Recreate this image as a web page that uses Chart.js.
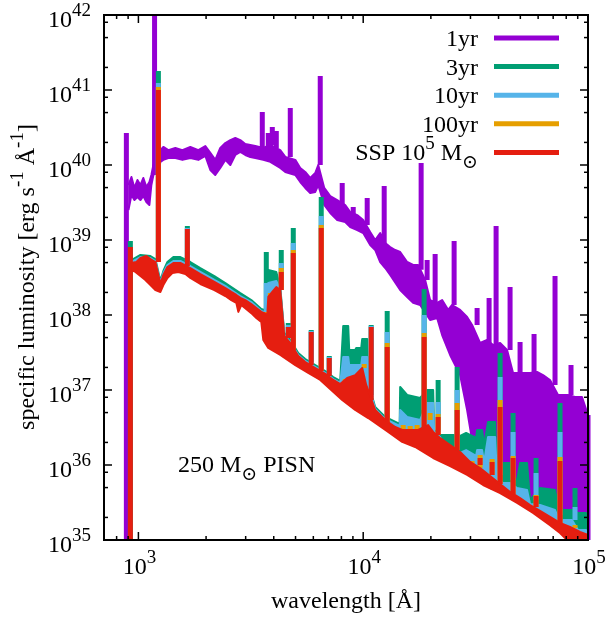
<!DOCTYPE html>
<html>
<head>
<meta charset="utf-8">
<script src="https://cdn.jsdelivr.net/npm/chart.js@4.4.1/dist/chart.umd.min.js"></script>
<style>html,body{margin:0;padding:0;background:#fff;}canvas{display:block;}</style>
</head>
<body>
<canvas id="spec" width="605" height="618"></canvas>
<script>
// Wavelength in Angstrom, specific luminosity in erg s^-1 A^-1.
// Band spectra are given as upper/lower envelopes; emission lines as [wavelength, base, peak].

// 250 Msun PISN, 1 yr
const pisn1yrUpper = [[903,5.41e39],[931,6.92e39],[960,4.94e39],[990,6.31e39],[1021,5.41e39],[1052,6.71e39],[1085,5.09e39],[1119,5.93e39],[1142,7.36e39],[1166,1.0e40],[1227,1.24e40],[1253,1.58e40],[1291,1.74e40],[1359,1.58e40],[1460,1.69e40],[1569,1.58e40],[1702,1.74e40],[1848,1.58e40],[1985,1.79e40],[2089,1.45e40],[2198,1.17e40],[2313,1.69e40],[2436,1.96e40],[2564,2.15e40],[2698,2.29e40],[2840,2.15e40],[2989,1.91e40],[3146,1.85e40],[3311,1.79e40],[3594,1.69e40],[3861,1.85e40],[4276,1.58e40],[4502,1.28e40],[4987,1.17e40],[5248,9.12e39],[5523,8.07e39],[5812,6.71e39],[6119,7.82e39],[6310,1.0e40],[6710,4.94e39],[7136,3.86e39],[7663,3.41e39],[8318,2.93e39],[8755,2.36e39],[9404,2.15e39],[10000,1.85e39],[10742,1.28e39],[11306,1.0e39],[11900,1.24e39],[12527,9.12e38],[13183,8.07e38],[13874,7.36e38],[14603,6.92e38],[15690,5.09e38],[16681,4.64e38],[17557,4.64e38],[18859,2.93e38],[19843,1.58e38],[21326,1.45e38],[22444,1.58e38],[23859,1.17e38],[24862,1.36e38],[26984,1.17e38],[28991,9.4e37],[30509,7.36e37],[33113,4.23e37],[35563,4.64e37],[37825,3.98e37],[40644,4.23e37],[43652,3.41e37],[46416,1.69e37],[51404,1.69e37],[55232,1.69e37],[59330,1.74e37],[63096,1.58e37],[67764,1.36e37],[73556,8.58e36],[81470,8.58e36],[87538,8.07e36],[94030,8.07e36],[100000,4.64e36]];
const pisn1yrLower = [[903,2.51e39],[931,3.98e39],[960,3.41e39],[990,3.75e39],[1021,3.41e39],[1052,3.86e39],[1085,3.21e39],[1119,2.93e39],[1142,5.41e39],[1166,7.36e39],[1227,8.58e39],[1253,1.10e40],[1291,1.17e40],[1359,1.24e40],[1460,1.24e40],[1569,1.17e40],[1702,1.24e40],[1848,1.17e40],[1985,1.32e40],[2089,8.58e39],[2198,7.36e39],[2313,9.12e39],[2436,1.17e40],[2564,1.0e40],[2698,1.36e40],[2840,1.49e40],[2989,1.36e40],[3146,1.28e40],[3311,1.24e40],[3594,1.17e40],[3861,1.10e40],[4276,9.12e39],[4502,8.07e39],[4987,7.36e39],[5248,5.93e39],[5523,4.94e39],[5812,4.23e39],[6119,4.37e39],[6310,5.41e39],[6710,2.93e39],[7136,2.29e39],[7663,1.85e39],[8318,1.74e39],[8755,1.49e39],[9404,1.36e39],[10000,1.24e39],[10742,8.58e38],[11306,7.36e38],[11900,5.09e38],[12527,4.23e38],[13183,3.41e38],[14603,2.15e38],[15690,1.74e38],[16681,1.45e38],[17920,1.36e38],[19843,8.58e37],[21326,9.12e37],[22444,5.41e37],[24355,2.93e37],[25639,2.15e37],[26984,1.58e37],[28991,5.41e36],[30509,2.15e36],[32114,1.0e36],[34145,5.75e35],[36681,4.94e35],[40644,4.5e35],[45012,3.86e35],[49866,3.31e35],[55232,2.84e35],[61190,2.29e35],[67764,1.74e35],[75078,1.36e35],[83176,1.17e35],[92130,1.06e35],[100000,1.0e35]];
const pisn1yrLines = [[884,5e34,2.67e40],[1180,7.36e39,3e42],[3557,1.69e40,5.09e40],[3782,1.69e40,2.67e40],[3941,1.85e40,3.21e40],[4106,1.69e40,2.84e40],[4738,1.28e40,5.75e40],[6440,1.0e40,1.54e41],[8065,2.93e39,5.75e39],[9029,2.15e39,2.76e39],[10418,1.58e39,3.63e39],[12399,9.12e38,5.25e39],[18101,4.0e38,1.06e40],[19245,2.93e38,5.41e38],[20893,1.45e38,6.51e38],[25377,1.36e38,9.7e38],[32114,7.36e37,1.24e38],[36308,4.23e37,1.69e38],[39008,3.98e37,1.54e39],[45012,3.41e37,2.36e38],[49866,1.69e37,4.37e37],[57544,1.69e37,5.58e37],[71339,1.17e37,3.31e38],[84028,8.58e36,2.15e37],[100000,5e34,4.64e36]];

// 3 yr
const pisn3yrTop = [[931,5.41e38],[1021,6.31e38],[1131,6.12e38],[1190,5.58e38],[1253,2.84e38],[1291,3.86e38],[1346,5.09e38],[1431,5.93e38],[1537,5.93e38],[1702,5.09e38],[1886,4.23e38],[2177,3.31e38],[2436,2.67e38],[2590,2.36e38],[2840,1.96e38],[3178,1.58e38],[3521,1.20e38],[3631,1.17e38],[3744,1.12e38],[3782,3.98e38],[4106,3.75e38],[4276,2.36e38],[4456,5.75e37],[4738,4.64e37],[5141,3.12e37],[5523,2.59e37],[6119,2.15e37],[6780,1.79e37],[7358,1.49e37],[7902,1.32e37],[8149,7.13e37],[8577,7.13e37],[8665,3.41e37],[9213,3.41e37],[9308,3.63e37],[9797,3.63e37],[9899,4.79e37],[10418,4.79e37],[10524,1.24e37],[11306,5.93e36],[12527,4.37e36],[14530,3.52e36],[14603,1.10e37],[15690,8.58e36],[17920,7.82e36],[19245,1.0e37],[20474,1.0e37],[20686,2.93e36],[21989,2.51e36],[25119,2.51e36],[26984,2.44e36],[28694,2.67e36],[31780,2.29e36],[32114,2.93e36],[33800,2.93e36],[34500,1.85e36],[35930,3.75e36],[38614,3.75e36],[39400,8.58e35],[41909,1.06e36],[45012,1.06e36],[45480,6.71e35],[48362,6.31e35],[49866,1.06e36],[53564,1.06e36],[55232,3.41e35],[61190,4.94e35],[71339,4.64e35],[75078,2.15e35],[77426,2.51e35],[84901,2.51e35],[90270,2.29e35],[97970,2.29e35],[100000,1.17e35]];
const pisn3yrLines = [[921,5e34,9.7e38],[1227,5.58e38,1.79e41],[1651,5.09e38,1.54e39],[3706,1.17e38,6.92e38],[4320,2.36e38,7.36e38],[4642,5.41e37,7.82e37],[4886,3.98e37,1.45e39],[5872,2.36e37,6.31e37],[6506,1.96e37,3.75e39],[7063,1.69e37,2.84e37],[10853,8.58e36,7.36e37],[12786,4.23e36,1.13e38],[18665,7.36e36,2.22e38],[21544,2.93e36,1.36e37],[26171,2.51e36,2.03e37],[40644,1.0e36,3.12e37],[46416,1.06e36,4.94e36],[58727,4.64e35,1.24e36],[75078,2.51e35,6.71e36],[87538,2.51e35,4.94e35]];

// 10 yr
const pisn10yrTop = [[931,5.09e38],[1021,5.93e38],[1131,5.75e38],[1190,5.25e38],[1253,2.67e38],[1291,3.63e38],[1346,4.64e38],[1431,5.25e38],[1537,5.25e38],[1702,4.5e38],[1886,3.75e38],[2177,2.93e38],[2436,2.44e38],[2590,2.15e38],[2840,1.79e38],[3178,1.49e38],[3521,1.13e38],[3631,1.10e38],[3744,1.06e38],[3782,2.67e38],[4106,2.84e38],[4276,2.15e38],[4456,5.41e37],[4738,4.37e37],[5141,2.93e37],[5523,2.44e37],[6119,2.03e37],[6780,1.69e37],[7358,1.40e37],[7902,1.24e37],[8149,2.76e37],[8577,2.76e37],[8665,2.15e37],[9797,2.15e37],[9899,2.76e37],[10418,2.76e37],[10524,1.20e37],[11306,5.58e36],[12527,4.11e36],[14530,3.31e36],[14603,5.41e36],[15690,4.37e36],[17920,3.98e36],[19245,6.71e36],[20474,6.71e36],[20686,2.76e36],[21989,2.36e36],[23130,1.49e36],[25119,1.49e36],[26984,1.45e36],[28694,1.58e36],[31780,1.32e36],[32114,1.58e36],[33800,1.58e36],[34500,1.10e36],[35930,2.36e36],[38614,2.36e36],[39400,6.71e35],[41909,5.75e35],[45012,5.75e35],[48362,4.94e35],[53564,4.64e35],[55232,3.02e35],[61190,2.93e35],[71339,2.51e35],[75078,1.74e35],[77426,1.85e35],[84901,1.85e35],[90270,1.36e35],[97970,1.36e35],[100000,1.17e35]];
const pisn10yrLines = [[1227,5.25e38,1.24e41],[1651,4.5e38,1.45e39],[3706,1.10e38,2.67e38],[4320,2.15e38,4.94e38],[4642,5.09e37,7.36e37],[4886,3.63e37,9.12e38],[5872,2.22e37,6.12e37],[6506,1.85e37,2.09e39],[7063,1.58e37,2.76e37],[10853,8.07e36,7.13e37],[12786,3.98e36,5.93e37],[18665,5.41e36,1.0e38],[21544,2.76e36,6.92e36],[26171,1.58e36,1.0e37],[33113,1.32e36,1.58e36],[40644,7.36e35,1.49e37],[46416,6.31e35,2.76e36],[58727,3.41e35,7.82e35],[75078,2.15e35,2.76e36],[87538,1.85e35,2.76e35]];

// 100 yr
const pisn100yrLines = [[1227,5.09e38,1.10e41],[3668,9.7e37,1.10e38],[3861,1.74e38,1.96e38],[4320,2.15e38,4.23e38],[4886,3.41e37,7.36e38],[6506,1.79e37,1.58e39],[8318,1.17e37,1.40e37],[10103,1.96e37,2.22e37],[12786,3.75e36,4.23e37],[15058,2.93e36,3.41e36],[16179,2.93e36,3.31e36],[17378,2.93e36,3.41e36],[18665,3.12e36,5.75e37],[19843,3.98e36,4.94e36],[21544,2.51e36,4.79e36],[26171,1.58e36,6.71e36],[28401,1.06e36,1.17e36],[30509,1.0e36,1.13e36],[33113,9.12e35,1.36e36],[37440,7.36e35,1.20e36],[40644,5.58e35,7.36e36],[46416,4.11e35,1.32e36],[58727,2.76e35,3.98e35],[75078,1.69e35,1.28e36],[87538,1.45e35,1.58e35]];

// SSP 10^5 Msun
const sspTop = [[931,4.94e38],[980,5.09e38],[1021,5.75e38],[1085,6.12e38],[1131,5.58e38],[1190,5.09e38],[1253,2.59e38],[1291,3.41e38],[1346,4.37e38],[1431,4.94e38],[1537,4.94e38],[1702,4.23e38],[1886,3.52e38],[2177,2.76e38],[2436,2.29e38],[2590,2.03e38],[2726,1.85e38],[2840,1.69e38],[2989,1.58e38],[3178,1.40e38],[3345,1.24e38],[3521,1.10e38],[3631,1.06e38],[3744,1.0e38],[3782,1.74e38],[3941,2.03e38],[4106,2.36e38],[4276,2.15e38],[4456,5.25e37],[4738,4.23e37],[5141,2.84e37],[5523,2.36e37],[6119,1.96e37],[6780,1.64e37],[7358,1.36e37],[7902,1.20e37],[8490,1.45e37],[9213,1.58e37],[9899,1.96e37],[10311,1.17e37],[11306,5.41e36],[12527,3.98e36],[13874,3.21e36],[14905,2.93e36],[16179,2.93e36],[17557,2.93e36],[19443,3.41e36],[20474,2.76e36],[21989,2.29e36],[24355,1.85e36],[26984,1.49e36],[29890,1.10e36],[33113,9.12e35],[36681,7.13e35],[40644,5.58e35],[45012,4.37e35],[49866,3.63e35],[55232,2.93e35],[61190,2.44e35],[67764,2.03e35],[75078,1.69e35],[83176,1.49e35],[92130,1.28e35],[100000,1.17e35]];
const sspFloor = [[931,3.98e38],[970,3.75e38],[1021,3.31e38],[1074,2.93e38],[1131,2.51e38],[1190,2.15e38],[1253,2.03e38],[1291,2.51e38],[1346,3.12e38],[1416,3.63e38],[1506,3.75e38],[1618,3.52e38],[1702,3.12e38],[1886,2.59e38],[2177,2.15e38],[2436,1.79e38],[2590,1.58e38],[2726,1.45e38],[2783,1.10e38],[2869,1.36e38],[3178,1.06e38],[3345,9.12e37],[3521,8.07e37],[3594,4.64e37],[3782,3.63e37],[4276,2.93e37],[4987,2.15e37],[5695,1.69e37],[6440,1.36e37],[8065,7.36e36],[9213,5.41e36],[10524,4.23e36],[12917,2.76e36],[14905,2.03e36],[17025,1.74e36],[20474,1.24e36],[24355,9.7e35],[28991,7.36e35],[34145,5.41e35],[40644,4.23e35],[48362,3.12e35],[56950,2.29e35],[67764,1.58e35],[75078,1.24e35],[80645,1.0e35],[87538,8.58e34],[100000,8.58e34]];
const sspLines = [[921,5e34,8.07e38],[1227,5.09e38,1.0e41],[1651,4.5e38,1.40e39],[4320,2.15e38,3.75e38],[4642,4.94e37,6.92e37],[4886,3.41e37,6.71e38],[5872,2.15e37,5.93e37],[6506,1.79e37,1.45e39],[7063,1.54e37,2.67e37],[10853,7.36e36,6.92e37],[12786,3.75e36,3.75e37],[18665,3.12e36,5.09e37],[21544,2.51e36,4.37e36],[26171,1.58e36,5.41e36],[33113,1.0e36,1.24e36],[37440,7.36e35,1.10e36],[40644,5.58e35,5.93e36],[46416,4.11e35,1.24e36],[58727,2.76e35,3.86e35],[75078,1.69e35,1.13e36]];

const seriesNames = ['1yr', '3yr', '10yr', '100yr', 'SSP 10^5 Msun'];
const COLORS = { y1: '#9400d3', y3: '#009e73', y10: '#56b4e9', y100: '#e69f00', ssp: '#e51e10' };
const xTickDecades = [3, 4, 5];
const yTickDecades = [35, 36, 37, 38, 39, 40, 41, 42];

const toPts = arr => arr.map(([x, y]) => ({ x, y }));
const toSpikes = arr => {
  const out = [];
  arr.forEach(([x, b, p]) => { out.push({ x, y: b }, { x, y: p }, { x, y: null }); });
  return out;
};

const CLIP = { left: 0, top: 0, right: 4, bottom: 0 };
const band = (data, color, order, target) => ({
  data: toPts(data), borderColor: color, backgroundColor: color, borderWidth: 2,
  fill: target === undefined ? false : { target, above: color, below: color },
  order, showLine: true, pointRadius: 0, tension: 0, borderJoinStyle: 'round', clip: CLIP
});
const lines = (data, color, order) => ({
  data: toSpikes(data), borderColor: color, borderWidth: 5, fill: false, order,
  showLine: true, pointRadius: 0, spanGaps: false, borderCapStyle: 'butt', clip: CLIP
});

const datasets = [
  band(sspTop, COLORS.ssp, 1, 1),          // 0
  band(sspFloor, COLORS.ssp, 1),           // 1
  lines(sspLines, COLORS.ssp, 1),          // 2
  lines(pisn100yrLines, COLORS.y100, 2),   // 3
  band(pisn10yrTop, COLORS.y10, 3, 1),     // 4
  lines(pisn10yrLines, COLORS.y10, 3),     // 5
  band(pisn3yrTop, COLORS.y3, 4, 1),       // 6
  lines(pisn3yrLines, COLORS.y3, 4),       // 7
  band(pisn1yrUpper, COLORS.y1, 5, 9),     // 8
  band(pisn1yrLower, COLORS.y1, 5),        // 9
  lines(pisn1yrLines, COLORS.y1, 5)        // 10
];

const SERIF = "'Liberation Serif','Times New Roman','DejaVu Serif',serif";
const FS = 24, SUP = 19;
function rich(ctx, parts, x, y, align) {
  let w = 0;
  parts.forEach(p => { ctx.font = p[1] + 'px ' + SERIF; w += ctx.measureText(p[0]).width; });
  let cx = align === 'right' ? x - w : (align === 'center' ? x - w / 2 : x);
  parts.forEach(p => {
    ctx.font = p[1] + 'px ' + SERIF;
    ctx.fillText(p[0], cx, y + p[2]);
    cx += ctx.measureText(p[0]).width;
  });
}

const frame = {
  id: 'frame',
  afterDraw(chart) {
    const ctx = chart.ctx, a = chart.chartArea, xs = chart.scales.x, ys = chart.scales.y;
    ctx.save();
    ctx.strokeStyle = '#000'; ctx.fillStyle = '#000';
    ctx.lineWidth = 1.5;
    const seg = (x1, y1, x2, y2) => { ctx.beginPath(); ctx.moveTo(x1, y1); ctx.lineTo(x2, y2); ctx.stroke(); };
    // x ticks, bottom and top
    for (let d = 2; d <= 5; d++) for (let m = 1; m <= 9; m++) {
      const v = m * Math.pow(10, d);
      if (v < xs.min || v > xs.max * 1.0001) continue;
      const px = xs.getPixelForValue(v), len = m === 1 ? 8 : 4;
      seg(px, a.bottom, px, a.bottom - len); seg(px, a.top, px, a.top + len);
    }
    // y ticks, left and right
    for (let d = 34; d <= 42; d++) for (const m of [1, 2, 5, 8]) {
      const v = m * Math.pow(10, d);
      if (v < ys.min * 0.9999 || v > ys.max * 1.0001) continue;
      const py = ys.getPixelForValue(v), len = m === 1 ? 8 : 4;
      seg(a.left, py, a.left + len, py); seg(a.right, py, a.right - len, py);
    }
    ctx.lineWidth = 2;
    ctx.strokeRect(a.left, a.top, a.right - a.left, a.bottom - a.top);

    ctx.textBaseline = 'alphabetic';
    xTickDecades.forEach(d => {
      const px = xs.getPixelForValue(Math.pow(10, d));
      rich(ctx, [['10', FS, 0], [String(d), SUP, -11]], px + 1, 574, 'center');
    });
    yTickDecades.forEach(d => {
      const py = ys.getPixelForValue(Math.pow(10, d));
      rich(ctx, [['10', FS, 0], [String(d), SUP, -11]], 91, py + 12, 'right');
    });
    // axis titles
    rich(ctx, [['wavelength [Å]', FS, 0]], 346, 608, 'center');
    ctx.save();
    ctx.translate(34, 277);
    ctx.rotate(-Math.PI / 2);
    rich(ctx, [['specific luminosity [erg s', FS, 0], ['-1', SUP, -11], [' Å', FS, 0], ['-1', SUP, -11], [']', FS, 0]], 0, 0, 'center');
    ctx.restore();

    // legend
    const entries = [
      [[[seriesNames[0], FS, 0]], COLORS.y1],
      [[[seriesNames[1], FS, 0]], COLORS.y3],
      [[[seriesNames[2], FS, 0]], COLORS.y10],
      [[[seriesNames[3], FS, 0]], COLORS.y100],
      [[['SSP 10', FS, 0], ['5', SUP, -11], [' M', FS, 0], ['⊙', SUP, 8]], COLORS.ssp]
    ];
    entries.forEach((e, i) => {
      const ly = 38 + i * 28.6;
      ctx.fillStyle = '#000';
      rich(ctx, e[0], 478, ly + 8, 'right');
      ctx.strokeStyle = e[1]; ctx.lineWidth = 5; ctx.lineCap = 'butt';
      seg(494, ly, 559, ly);
    });

    ctx.fillStyle = '#000';
    rich(ctx, [['250 M', FS, 0], ['⊙', SUP, 8], [' PISN', FS, 0]], 178, 472, 'left');
    ctx.restore();
  }
};

Chart.defaults.font.family = SERIF;
new Chart(document.getElementById('spec'), {
  type: 'scatter',
  data: { datasets },
  options: {
    responsive: false,
    devicePixelRatio: 1,
    animation: false,
    events: [],
    layout: { padding: { left: 104, right: 17, top: 15, bottom: 78 } },
    scales: {
      x: { type: 'logarithmic', min: 703, max: 100000, display: false },
      y: { type: 'logarithmic', min: 1e35, max: 1e42, display: false }
    },
    plugins: { legend: { display: false }, tooltip: { enabled: false } }
  },
  plugins: [frame]
});
</script>
</body>
</html>
